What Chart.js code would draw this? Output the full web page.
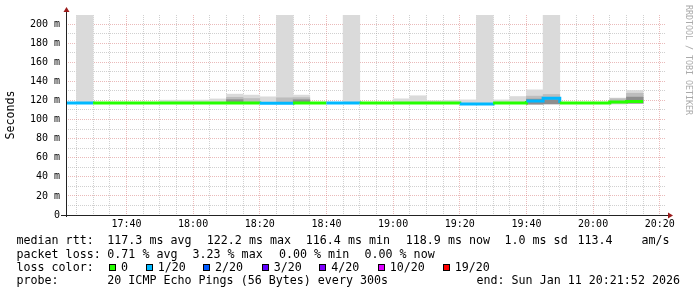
<!DOCTYPE html>
<html><head><meta charset="utf-8">
<script src="https://cdn.jsdelivr.net/npm/chart.js@4.4.0/dist/chart.umd.min.js"></script>
<style>
html,body{margin:0;padding:0;background:#fff;}
#wrap{position:relative;width:697px;height:297px;overflow:hidden;background:#fff;}
#c{position:absolute;left:0;top:0;}
.t{position:absolute;white-space:pre;font-family:"DejaVu Sans Mono",monospace;font-size:11.66px;line-height:14px;color:#000;}
.box{position:absolute;width:7px;height:7px;box-sizing:border-box;border:1px solid #000;}
#wm{position:absolute;left:684px;top:5px;writing-mode:vertical-rl;font-family:"DejaVu Sans Mono",monospace;font-size:8.3px;line-height:9px;color:#aaaaaa;white-space:pre;}
</style></head><body>
<div id="wrap"><canvas id="c" width="697" height="297"></canvas><div id="wm">RRDTOOL / TOBI OETIKER</div></div>
<script>
// ---------------- data ----------------
const intervalStarts = ['17:20','17:25','17:30','17:35','17:40','17:45','17:50','17:55',
  '18:00','18:05','18:10','18:15','18:20','18:25','18:30','18:35','18:40','18:45','18:50','18:55',
  '19:00','19:05','19:10','19:15','19:20','19:25','19:30','19:35','19:40','19:45','19:50','19:55',
  '20:00','20:05','20:10'];
const medianRtt = [117.4,117.4,117.3,117.3,117.3,117.3,117.3,117.3,
  117.2,117.2,117.2,117.2,117.1,117.1,117.3,117.3,117.3,117.3,117.2,117.2,
  117.2,117.2,117.2,117.3,116.4,116.4,117.2,117.2,119.4,122.2,117.3,117.3,
  117.3,118.3,118.9];
const lostPings = [1,1,0,0,0,0,0,0, 0,0,0,0,1,1,0,0,1,1,0,0, 0,0,0,0,1,1,0,0,1,1,0,0, 0,0,0];
const smokeLight = [null,[117.4,215],null,null,null,null,[117,120.3],[117,120.3],
  [117,120.4],[117,121.6],[117,126.6],[117,125.6],[117,123.8],[117,215],[117,125.6],null,null,[117.3,215],null,null,
  [117,121.7],[117,124.9],[117,119.8],[117,120.2],[116,120.6],[116.4,215],[117,120.6],[117,124.1],[115.8,131.1],[116.2,215],null,null,
  null,[116.2,122.5],[116.8,130.4]];
const smokeMid = [null,null,null,null,null,null,null,null,
  null,null,[117,123.3],[117,122.0],null,[117,122.8],[117,123.0],null,null,null,null,null,
  null,null,null,null,null,null,null,null,[116.2,124.5],[116.4,126.3],null,null,
  null,[117,121.8],[117,127.5]];
const smokeDark = [null,null,null,null,null,null,null,null,
  null,null,[117,120.8],null,null,null,[117,120.7],null,null,null,null,null,
  null,null,null,null,null,null,null,null,[116.2,121.4],[116.5,120.8],null,null,
  null,null,[117.2,123.5]];
const xTickLabels = ['17:40','18:00','18:20','18:40','19:00','19:20','19:40','20:00','20:20'];
const yTickValues = [0,20,40,60,80,100,120,140,160,180,200];
const yTickLabels = ['0','20 m','40 m','60 m','80 m','100 m','120 m','140 m','160 m','180 m','200 m'];
const lossThresholds = [0,1,2,3,4,10,19];
const lossLabels = ['0','1/20','2/20','3/20','4/20','10/20','19/20'];
const lossColors = ['#26ff00','#00b8ff','#0059ff','#5e00ff','#7e00ff','#dd00ff','#ff0000'];
const medianStatNames = ['avg','max','min','now'];
const medianStatVals = ['117.3','122.2','116.4','118.9'];
const medianSd = '1.0';
const medianAmps = '113.4';
const lossStatVals = ['0.71','3.23','0.00','0.00'];
const probeText = '20 ICMP Echo Pings (56 Bytes) every 300s';
const endText = 'end: Sun Jan 11 20:21:52 2026';
const windowEnd = '20:21:52';
const windowHours = 3;
const yMax = 209.5;

// ---------------- helpers ----------------
const toMin = s => { const p = s.split(':').map(Number); return p[0]*60 + p[1] + (p[2]||0)/60; };
const STEP = 5;
const xEnd = toMin(windowEnd);
const xStart = xEnd - windowHours*60;
const lossColor = n => { let k = 0; lossThresholds.forEach((t,i)=>{ if (n >= t) k = i; }); return lossColors[k]; };
const xGrid = []; for (let v = Math.ceil(xStart/STEP)*STEP; v <= xEnd; v += STEP) xGrid.push(v);
const yGrid = []; for (let v = 0; v <= yMax; v += 10) yGrid.push(v);
const MAJOR = 'rgba(205,90,90,0.42)';
const MINOR = 'rgba(150,150,150,0.45)';
const tickFont = {family:'DejaVu Sans Mono', size:10};

const barDs = (arr, color, order) => ({
  type:'bar', order, clip:0,
  data: intervalStarts.map((s,i)=>({x: toMin(s)+STEP/2, y: arr[i]})),
  backgroundColor: color, borderWidth:0, barPercentage:1, categoryPercentage:1, grouped:false
});
const last = intervalStarts.length - 1;
const lineData = intervalStarts.map((s,i)=>({x: toMin(s), y: medianRtt[i]}));
lineData.push({x: toMin(intervalStarts[last]) + STEP, y: medianRtt[last]});

const axisPlugin = {
  id:'rrdAxes',
  afterDatasetsDraw(chart){
    const {ctx, chartArea:a} = chart;
    ctx.save();
    ctx.strokeStyle = '#222'; ctx.lineWidth = 1;
    ctx.beginPath();
    ctx.moveTo(a.left - 5, a.bottom + 0.5); ctx.lineTo(a.right + 3, a.bottom + 0.5);
    ctx.moveTo(a.left + 0.5, a.bottom + 2); ctx.lineTo(a.left + 0.5, a.top - 4);
    ctx.stroke();
    ctx.fillStyle = '#9a1a1a';
    ctx.beginPath();
    ctx.moveTo(a.right + 2, a.bottom - 2.5); ctx.lineTo(a.right + 7, a.bottom + 0.5); ctx.lineTo(a.right + 2, a.bottom + 3.5);
    ctx.closePath(); ctx.fill();
    ctx.beginPath();
    ctx.moveTo(a.left - 2.5, a.top - 3); ctx.lineTo(a.left + 0.5, a.top - 8); ctx.lineTo(a.left + 3.5, a.top - 3);
    ctx.closePath(); ctx.fill();
    ctx.restore();
  }
};

new Chart(document.getElementById('c'), {
  data: {
    datasets: [
      barDs(smokeLight, '#dadada', 3),
      barDs(smokeMid, '#bdbdbd', 2),
      barDs(smokeDark, '#8e8e8e', 1),
      { type:'line', order:0, clip:0, data: lineData, stepped:'before', borderWidth:3, pointRadius:0,
        borderCapStyle:'butt', borderColor: lossColors[0],
        segment:{ borderColor: ctx => lossColor(lostPings[ctx.p0DataIndex]) } }
    ]
  },
  options: {
    responsive:false, animation:false, devicePixelRatio:1,
    layout:{ padding:{ left:0, right:31, top:15, bottom:0 } },
    plugins:{ legend:{display:false}, tooltip:{enabled:false} },
    scales:{
      x:{ type:'linear', min:xStart, max:xEnd, offset:false,
        afterFit: s => { s.height = 82; },
        afterBuildTicks: s => { s.ticks = xGrid.map(v=>({value:v})); },
        grid:{ color: c => (c.tick && c.tick.value % 20 === 0) ? MAJOR : MINOR, lineWidth:1, drawTicks:false, offset:false },
        border:{ display:false, dash:[1,1] },
        ticks:{ font:tickFont, color:'#000', padding:3, autoSkip:false, maxRotation:0,
          callback: v => { const i = xTickLabels.findIndex(l => toMin(l) === v); return i >= 0 ? xTickLabels[i] : ''; } }
      },
      y:{ type:'linear', min:0, max:yMax,
        afterFit: s => { s.width = 66; },
        afterBuildTicks: s => { s.ticks = yGrid.map(v=>({value:v})); },
        grid:{ color: c => (c.tick && c.tick.value % 20 === 0) ? MAJOR : MINOR, lineWidth:1, drawTicks:false },
        border:{ display:false, dash:[1,1] },
        ticks:{ font:tickFont, color:'#000', padding:6, autoSkip:false,
          callback: v => { const i = yTickValues.indexOf(v); return i >= 0 ? yTickLabels[i] : ''; } },
        title:{ display:true, text:'Seconds', color:'#000', font:{family:'DejaVu Sans Mono', size:11.66}, padding:{top:4, bottom:0} }
      }
    }
  },
  plugins:[axisPlugin]
});

// ---------------- legend text ----------------
const wrap = document.getElementById('wrap');
const addText = (x, baseline, text) => {
  const d = document.createElement('div'); d.className = 't';
  d.style.left = x + 'px'; d.style.top = (baseline - 11) + 'px'; d.textContent = text; wrap.appendChild(d); return d;
};
const addBox = (x, top, color) => {
  const d = document.createElement('div'); d.className = 'box';
  d.style.left = x + 'px'; d.style.top = top + 'px'; d.style.background = color; wrap.appendChild(d);
};
const row1 = 244.3, row2 = 258.3, row3 = 271, row4 = 283.7;
addText(16.5, row1, 'median rtt:');
const medX = [107.3, 206.8, 305.8, 405.8];
medianStatVals.forEach((v,i)=> addText(medX[i], row1, v + ' ms ' + medianStatNames[i]));
addText(504.5, row1, medianSd + ' ms sd');
addText(577.5, row1, medianAmps);
addText(641.5, row1, 'am/s');
addText(16.5, row2, 'packet loss:');
const lossX = [107.3, 192.5, 279, 364.5];
lossStatVals.forEach((v,i)=> addText(lossX[i], row2, v + ' % ' + medianStatNames[i]));
addText(16.5, row3, 'loss color:');
const boxX = [109, 145.7, 203, 261.7, 319.3, 377.7, 442.7];
lossLabels.forEach((l,i)=>{ addBox(boxX[i], 264, lossColors[i]); addText(boxX[i] + 12, row3, l); });
addText(16.5, row4, 'probe:');
addText(107.3, row4, probeText);
const e = addText(0, row4, endText);
e.style.left = (680 - e.getBoundingClientRect().width) + 'px';
</script>
</body></html>
